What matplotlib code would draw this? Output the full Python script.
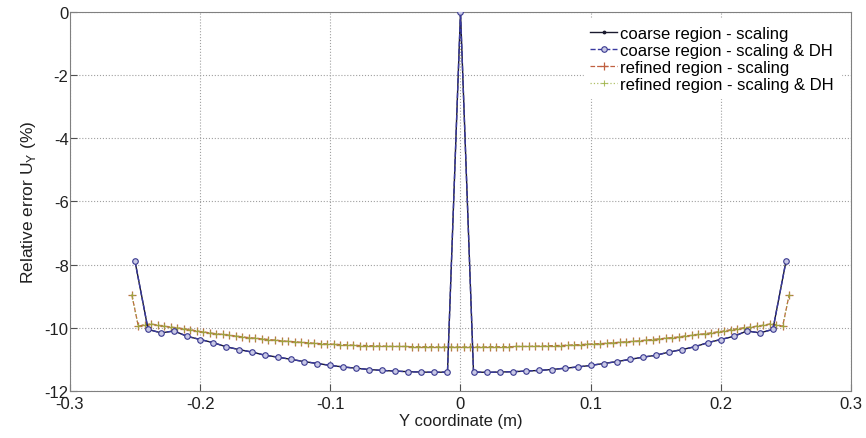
import matplotlib.pyplot as plt
import numpy as np

# coarse mesh: y from -0.25 to 0.25, step 0.01 (51 points)
coarse_y = [-0.25, -0.24, -0.23, -0.22, -0.21, -0.20, -0.19, -0.18, -0.17, -0.16,
            -0.15, -0.14, -0.13, -0.12, -0.11, -0.10, -0.09, -0.08, -0.07, -0.06,
            -0.05, -0.04, -0.03, -0.02, -0.01, 0.00, 0.01, 0.02, 0.03, 0.04,
            0.05, 0.06, 0.07, 0.08, 0.09, 0.10, 0.11, 0.12, 0.13, 0.14,
            0.15, 0.16, 0.17, 0.18, 0.19, 0.20, 0.21, 0.22, 0.23, 0.24, 0.25]
coarse_scaling = [-7.9, -10.05, -10.16, -10.1, -10.27, -10.37, -10.47, -10.6, -10.69, -10.77,
                  -10.87, -10.93, -11.0, -11.07, -11.13, -11.19, -11.24, -11.28, -11.32, -11.35,
                  -11.37, -11.39, -11.4, -11.41, -11.4, 0.0, -11.4, -11.41, -11.4, -11.39,
                  -11.37, -11.35, -11.32, -11.28, -11.24, -11.19, -11.13, -11.07, -11.0, -10.93,
                  -10.87, -10.77, -10.69, -10.6, -10.47, -10.37, -10.27, -10.1, -10.16, -10.05, -7.9]
coarse_dh = [-7.9, -10.05, -10.16, -10.1, -10.27, -10.37, -10.47, -10.6, -10.69, -10.77,
             -10.87, -10.93, -11.0, -11.07, -11.13, -11.19, -11.24, -11.28, -11.32, -11.35,
             -11.37, -11.39, -11.4, -11.41, -11.4, 0.0, -11.4, -11.41, -11.4, -11.39,
             -11.37, -11.35, -11.32, -11.28, -11.24, -11.19, -11.13, -11.07, -11.0, -10.93,
             -10.87, -10.77, -10.69, -10.6, -10.47, -10.37, -10.27, -10.1, -10.16, -10.05, -7.9]

# refined mesh: y from -0.2525 to 0.2525, step 0.005 (102 points)
refined_y = [-0.2525, -0.2475, -0.2425, -0.2375, -0.2325, -0.2275, -0.2225, -0.2175, -0.2125, -0.2075,
             -0.2025, -0.1975, -0.1925, -0.1875, -0.1825, -0.1775, -0.1725, -0.1675, -0.1625, -0.1575,
             -0.1525, -0.1475, -0.1425, -0.1375, -0.1325, -0.1275, -0.1225, -0.1175, -0.1125, -0.1075,
             -0.1025, -0.0975, -0.0925, -0.0875, -0.0825, -0.0775, -0.0725, -0.0675, -0.0625, -0.0575,
             -0.0525, -0.0475, -0.0425, -0.0375, -0.0325, -0.0275, -0.0225, -0.0175, -0.0125, -0.0075,
             -0.0025, 0.0025, 0.0075, 0.0125, 0.0175, 0.0225, 0.0275, 0.0325, 0.0375, 0.0425,
             0.0475, 0.0525, 0.0575, 0.0625, 0.0675, 0.0725, 0.0775, 0.0825, 0.0875, 0.0925,
             0.0975, 0.1025, 0.1075, 0.1125, 0.1175, 0.1225, 0.1275, 0.1325, 0.1375, 0.1425,
             0.1475, 0.1525, 0.1575, 0.1625, 0.1675, 0.1725, 0.1775, 0.1825, 0.1875, 0.1925,
             0.1975, 0.2025, 0.2075, 0.2125, 0.2175, 0.2225, 0.2275, 0.2325, 0.2375, 0.2425,
             0.2475, 0.2525]
refined_scaling = [-8.95, -9.95, -9.9, -9.88, -9.92, -9.95, -9.98, -10.0, -10.03, -10.06,
                   -10.1, -10.13, -10.16, -10.19, -10.21, -10.24, -10.26, -10.29, -10.31, -10.33,
                   -10.35, -10.37, -10.39, -10.41, -10.43, -10.44, -10.46, -10.47, -10.49, -10.5,
                   -10.51, -10.52, -10.53, -10.54, -10.55, -10.56, -10.56, -10.57, -10.58, -10.58,
                   -10.59, -10.59, -10.59, -10.6, -10.6, -10.6, -10.6, -10.61, -10.61, -10.61,
                   -10.61, -10.61, -10.61, -10.61, -10.61, -10.6, -10.6, -10.6, -10.6, -10.59,
                   -10.59, -10.59, -10.58, -10.58, -10.57, -10.56, -10.56, -10.55, -10.54, -10.53,
                   -10.52, -10.51, -10.5, -10.49, -10.47, -10.46, -10.44, -10.43, -10.41, -10.39,
                   -10.37, -10.35, -10.33, -10.31, -10.29, -10.26, -10.24, -10.21, -10.19, -10.16,
                   -10.13, -10.1, -10.06, -10.03, -10.0, -9.98, -9.95, -9.92, -9.88, -9.9,
                   -9.95, -8.95]
refined_dh = [-8.95, -9.95, -9.9, -9.88, -9.92, -9.95, -9.98, -10.0, -10.03, -10.06,
              -10.1, -10.13, -10.16, -10.19, -10.21, -10.24, -10.26, -10.29, -10.31, -10.33,
              -10.35, -10.37, -10.39, -10.41, -10.43, -10.44, -10.46, -10.47, -10.49, -10.5,
              -10.51, -10.52, -10.53, -10.54, -10.55, -10.56, -10.56, -10.57, -10.58, -10.58,
              -10.59, -10.59, -10.59, -10.6, -10.6, -10.6, -10.6, -10.61, -10.61, -10.61,
              -10.61, -10.61, -10.61, -10.61, -10.61, -10.6, -10.6, -10.6, -10.6, -10.59,
              -10.59, -10.59, -10.58, -10.58, -10.57, -10.56, -10.56, -10.55, -10.54, -10.53,
              -10.52, -10.51, -10.5, -10.49, -10.47, -10.46, -10.44, -10.43, -10.41, -10.39,
              -10.37, -10.35, -10.33, -10.31, -10.29, -10.26, -10.24, -10.21, -10.19, -10.16,
              -10.13, -10.1, -10.06, -10.03, -10.0, -9.98, -9.95, -9.92, -9.88, -9.9,
              -9.95, -8.95]

x_ticks = [-0.3, -0.2, -0.1, 0, 0.1, 0.2, 0.3]
y_ticks = [0, -2, -4, -6, -8, -10, -12]

plt.rcParams['font.family'] = ['Liberation Sans', 'DejaVu Sans']

fig = plt.figure(figsize=(8.66, 4.39), dpi=100)
ax = fig.add_axes([0.0808, 0.1071, 0.9019, 0.8633])

ax.plot(coarse_y, coarse_scaling, '-', color='#1a1a2e', lw=1.0, marker='.', ms=3.5,
        label='coarse region - scaling', zorder=3)
ax.plot(coarse_y, coarse_dh, '--', color='#3a3aa0', lw=1.0, marker='o', ms=4,
        mfc='#c8c8e6', mec='#3a3a90', mew=0.8, label='coarse region - scaling & DH', zorder=4)
ax.plot(refined_y, refined_scaling, '--', color='#c06040', lw=0.9, marker='+', ms=6,
        mew=0.9, label='refined region - scaling', zorder=2)
ax.plot(refined_y, refined_dh, ':', color='#9ab040', lw=0.9, marker='+', ms=5,
        mew=0.8, alpha=0.8, label='refined region - scaling & DH', zorder=2)

ax.set_xlim(-0.3, 0.3)
ax.set_ylim(-12, 0)
ax.set_xticks(x_ticks)
ax.set_xticklabels(['-0.3', '-0.2', '-0.1', '0', '0.1', '0.2', '0.3'])
ax.set_yticks(y_ticks)
ax.set_yticklabels(['0', '-2', '-4', '-6', '-8', '-10', '-12'])
ax.grid(True, linestyle=':', color='#a0a0a0', lw=0.8)
ax.tick_params(direction='in', length=5, labelsize=12, colors='#505050', labelcolor='#202020')
ax.tick_params(axis='x', pad=3.5)
ax.tick_params(axis='y', pad=1)
for s in ax.spines.values():
    s.set_color('#808080')

ax.set_xlabel('Y coordinate (m)', fontsize=12, color='#202020', labelpad=1.5)
ax.set_ylabel('Relative error U$_\\mathregular{Y}$ (%)', fontsize=12.5, color='#202020', labelpad=5)

leg = ax.legend(loc='upper right', frameon=True, fontsize=12, handlelength=1.6,
                handletextpad=0.2, labelspacing=0.12, borderaxespad=0.3,
                bbox_to_anchor=(0.993, 0.995))
leg.get_frame().set_facecolor('white')
leg.get_frame().set_edgecolor('white')
leg.get_frame().set_alpha(1.0)

fig.savefig('out.png', dpi=100)
